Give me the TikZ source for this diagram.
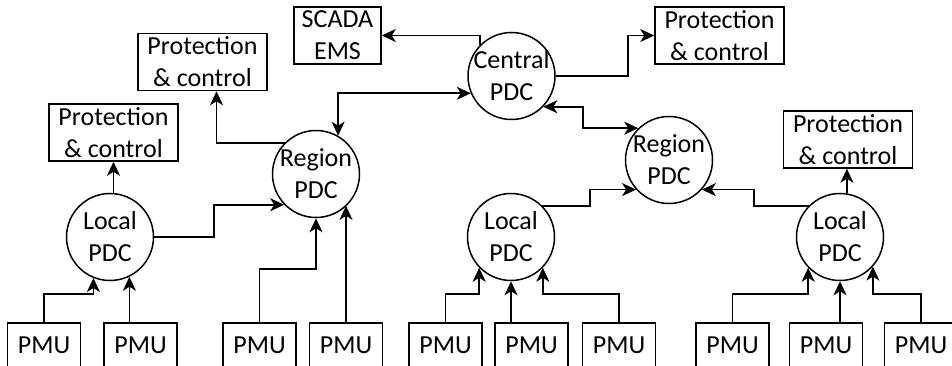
\documentclass[tikz,border=0pt]{standalone}
\usepackage{fontspec}
\setmainfont{Carlito}
\usetikzlibrary{arrows.meta}
\definecolor{ink}{HTML}{000000}
\tikzset{
  box/.style={draw=ink, line width=1.5pt, align=center, inner sep=0pt,
              minimum width=129pt, minimum height=57pt,
              font=\fontsize{26}{32}\selectfont, text=ink},
  pmubox/.style={box, minimum width=73pt, minimum height=44pt},
  pdc/.style={circle, draw=ink, line width=1.5pt, align=center, inner sep=-10pt,
              minimum size=87pt, font=\fontsize{26}{32}\selectfont, text=ink},
  fl/.style={-{Stealth[length=14pt, width=13pt, inset=4pt]}, line width=1.7pt, draw=ink},
  fl2/.style={{Stealth[length=14pt, width=13pt, inset=4pt]}-{Stealth[length=14pt, width=13pt, inset=4pt]},
              line width=1.7pt, draw=ink},
}
\begin{document}
\begin{tikzpicture}[x=1pt, y=-1pt]
  \clip (0,0) rectangle (952,366);
  \node[box] (pc1) at (113.5,132.5) {Protection\\\& control};
  \node[box] (pc2) at (202.5,62) {Protection\\\& control};
  \node[box, minimum width=87pt] (scada) at (337.5,35.5) {SCADA\\EMS};
  \node[box] (pc3) at (719.5,35.5) {Protection\\\& control};
  \node[box] (pc4) at (848,139.5) {Protection\\\& control};
  \node[pdc] (cen) at (511.5,76) {Central\\PDC};
  \node[pdc] (reg1) at (316,174) {Region\\PDC};
  \node[pdc] (reg2) at (669,160) {Region\\PDC};
  \node[pdc] (loc1) at (110,237) {Local\\PDC};
  \node[pdc] (loc2) at (511,237) {Local\\PDC};
  \node[pdc] (loc3) at (840,237) {Local\\PDC};
  \node[pmubox] (pmu1) at (44,345) {PMU};
  \node[pmubox] (pmu2) at (140.5,345) {PMU};
  \node[pmubox] (pmu3) at (259.5,345) {PMU};
  \node[pmubox] (pmu4) at (346,345) {PMU};
  \node[pmubox] (pmu5) at (445.5,345) {PMU};
  \node[pmubox] (pmu6) at (531.5,345) {PMU};
  \node[pmubox] (pmu7) at (619,345) {PMU};
  \node[pmubox] (pmu8) at (732.5,345) {PMU};
  \node[pmubox] (pmu9) at (826,345) {PMU};
  \node[pmubox] (pmu10) at (921,345) {PMU};
  \draw[fl] (loc1.north -| pc1.south) -- (pc1.south);
  \draw[fl] (loc1.east) -- ++(60,0) |- (reg1.224);
  \draw[fl] (reg1.135) -| ([xshift=14pt]pc2.south);
  \draw[fl2] (reg1.60) |- (cen.203);
  \draw[fl] (cen.135) |- (scada.east);
  \draw[fl] (cen.east) -- ++(72,0) |- (pc3.west);
  \draw[fl2] (cen.316) -- ++(40,0) |- (reg2.134);
  \draw[fl] (loc2.45) -- ++(48,0) |- (reg2.222);
  \draw[fl] (loc3.135) -- ++(-55,0) |- (reg2.318);
  \draw[fl] (loc3.81) -- (loc3.81 |- pc4.south);
  \draw[fl] (pmu1.north) -- ++(0,-28) -| (loc1.248);
  \draw[fl] (loc1.296 |- pmu2.north) -- (loc1.296);
  \draw[fl] (pmu3.north) -- ++(0,-53) -| (reg1.south);
  \draw[fl] (pmu4.north) -- (pmu4.north |- reg1.314);
  \draw[fl] (pmu5.north) -- ++(0,-28) -| (loc2.224);
  \draw[fl] (loc2.south |- pmu6.north) -- (loc2.south);
  \draw[fl] (pmu7.north) -- ++(0,-28) -| (loc2.316);
  \draw[fl] (pmu8.north) -- ++(0,-28) -| (loc3.224);
  \draw[fl] (loc3.south |- pmu9.north) -- (loc3.south);
  \draw[fl] (pmu10.north) -- ++(0,-28) -| (loc3.318);
\end{tikzpicture}
\end{document}
